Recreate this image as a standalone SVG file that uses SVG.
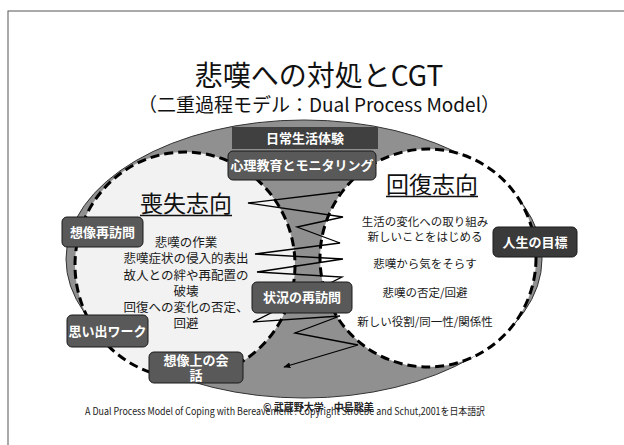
<svg xmlns="http://www.w3.org/2000/svg" width="624" height="445" viewBox="0 0 624 445">
<defs>
<style>
.jp{font-family:"Noto Sans CJK JP","Noto Sans",sans-serif;}
.box{fill:#595959;stroke:#1a1a1a;stroke-width:1;}
.bt{font-family:"Noto Sans CJK JP",sans-serif;font-weight:bold;font-size:13px;fill:#fff;text-anchor:middle;}
.lt{font-family:"Noto Sans CJK JP",sans-serif;font-size:12.5px;fill:#1a1a1a;text-anchor:middle;}
.rt{font-family:"Noto Sans CJK JP",sans-serif;font-size:11.5px;fill:#1a1a1a;text-anchor:middle;}
.dash{stroke:#000;stroke-width:3;stroke-dasharray:9 5;}
.zz{fill:none;stroke:#000;stroke-width:1.3;}
</style>
<marker id="arr" viewBox="0 0 10 10" refX="9" refY="5" markerWidth="7" markerHeight="7" orient="auto" markerUnits="userSpaceOnUse">
<path d="M0,1 L10,5 L0,9 z" fill="#000"/>
</marker>
</defs>
<rect width="624" height="445" fill="#fff"/>
<rect x="8" y="11" width="640" height="470" fill="none" stroke="#555" stroke-width="1"/>
<text class="jp" x="319" y="86" font-size="28" text-anchor="middle" fill="#111">悲嘆への対処とCGT</text>
<text class="jp" x="319" y="112" font-size="19" text-anchor="middle" fill="#111">（二重過程モデル：Dual Process Model）</text>

<g id="outer"><ellipse cx="304" cy="259" rx="238" ry="139" fill="#909090" stroke="#333" stroke-width="1"/></g>
<g id="loss-area"><ellipse class="dash" cx="185" cy="265" rx="110" ry="113" fill="#f2f2f2"/></g>
<g id="restoration-area"><ellipse class="dash" cx="428" cy="258" rx="108" ry="109" fill="#fff"/></g>

<g id="connectors">
<polyline class="zz" marker-end="url(#arr)" points="340,192 248,203 343,217 297,227 340,243 255,254 343,259 257,272 342,277 253,322 340,316 295,333 358,345 284,367"/>
</g>

<g id="loss-label">
<text class="jp" x="186" y="212" font-size="23" text-anchor="middle" fill="#111">喪失志向</text>
<line x1="140" y1="215.5" x2="232" y2="215.5" stroke="#111" stroke-width="1.5"/>
</g>
<g id="restoration-label">
<text class="jp" x="432" y="193" font-size="23" text-anchor="middle" fill="#111">回復志向</text>
<line x1="386" y1="196.5" x2="478" y2="196.5" stroke="#111" stroke-width="1.5"/>
</g>
<g id="loss-items">
<text class="lt" x="186" y="247">悲嘆の作業</text>
<text class="lt" x="186" y="263">悲嘆症状の侵入的表出</text>
<text class="lt" x="186" y="280">故人との絆や再配置の</text>
<text class="lt" x="186" y="296">破壊</text>
<text class="lt" x="186" y="312">回復への変化の否定、</text>
<text class="lt" x="186" y="328">回避</text>
</g>
<g id="restoration-items">
<text class="rt" x="425" y="226">生活の変化への取り組み</text>
<text class="rt" x="425" y="241">新しいことをはじめる</text>
<text class="rt" x="425" y="268">悲嘆から気をそらす</text>
<text class="rt" x="425" y="297">悲嘆の否定/回避</text>
<text class="rt" x="425" y="326">新しい役割/同一性/関係性</text>
</g>

<g id="daily-life"><rect x="232" y="127" width="146" height="22" fill="#404040"/><text class="bt" x="305" y="143">日常生活体験</text></g>
<g id="psychoeducation"><rect class="box" x="228" y="151" width="148" height="29" rx="5"/><text class="bt" x="302" y="170" font-size="12.5">心理教育とモニタリング</text></g>
<g id="imaginal-revisiting"><rect class="box" x="62" y="217" width="81" height="30" rx="5"/><text class="bt" x="102.5" y="237">想像再訪問</text></g>
<g id="life-goals"><rect class="box" x="493" y="227" width="84" height="30" rx="5" style="fill:#3a3a3a"/><text class="bt" x="535" y="247">人生の目標</text></g>
<g id="situational-revisiting"><rect class="box" x="252" y="282" width="100" height="31" rx="5"/><text class="bt" x="302" y="302">状況の再訪問</text></g>
<g id="memory-work"><rect class="box" x="67" y="315" width="81" height="32" rx="5"/><text class="bt" x="107.5" y="336" font-size="12">思い出ワーク</text></g>
<g id="imaginal-conversation"><rect class="box" x="149" y="352" width="94" height="31" rx="5"/><text class="bt" x="196" y="365">想像上の会</text><text class="bt" x="196" y="380">話</text></g>

<g id="footer">
<text class="jp" x="85" y="415" font-size="10" fill="#222" textLength="400" lengthAdjust="spacingAndGlyphs">A Dual Process Model of Coping with Bereavement : Copyright Stroebe and Schut,2001を日本語訳</text>
<text class="jp" x="263" y="411" font-size="10" font-weight="bold" fill="#222">© 武蔵野大学　中島聡美</text>
</g>
</svg>
